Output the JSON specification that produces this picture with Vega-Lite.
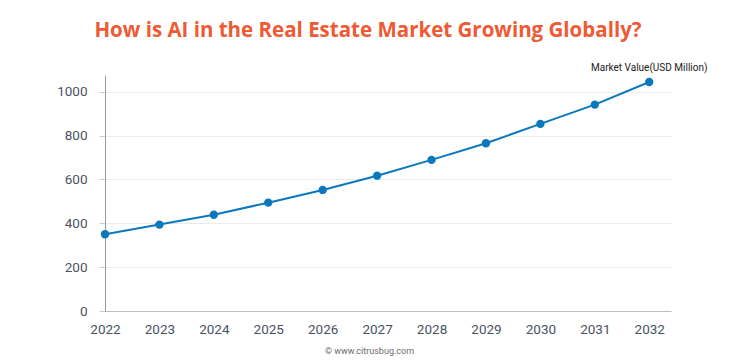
{
  "$schema": "https://vega.github.io/schema/vega-lite/v6.json",
  "width": 566,
  "height": 236,
  "autosize": {"type": "none"},
  "padding": {"left": 105, "top": 75, "right": 65, "bottom": 53},
  "background": "white",
  "title": {
    "text": "How is AI in the Real Estate Market Growing Globally?",
    "font": "Open Sans",
    "fontSize": 20.5,
    "fontWeight": "bold",
    "color": "#EE5A35",
    "anchor": "middle",
    "dx": -20,
    "offset": 22
  },
  "config": {
    "view": {"stroke": null},
    "axis": {"labelFont": "Roboto", "labelColor": "#4a5263", "labelFontSize": 13.5, "titleFont": "Roboto"}
  },
  "data": {
    "values": [
      {"year": 2022, "value": 350, "series": "Market Value(USD Million)"},
      {"year": 2023, "value": 394, "series": "Market Value(USD Million)"},
      {"year": 2024, "value": 439, "series": "Market Value(USD Million)"},
      {"year": 2025, "value": 494, "series": "Market Value(USD Million)"},
      {"year": 2026, "value": 552, "series": "Market Value(USD Million)"},
      {"year": 2027, "value": 617, "series": "Market Value(USD Million)"},
      {"year": 2028, "value": 689, "series": "Market Value(USD Million)"},
      {"year": 2029, "value": 765, "series": "Market Value(USD Million)"},
      {"year": 2030, "value": 853, "series": "Market Value(USD Million)"},
      {"year": 2031, "value": 941, "series": "Market Value(USD Million)"},
      {"year": 2032, "value": 1044, "series": "Market Value(USD Million)"}
    ]
  },
  "encoding": {
    "x": {
      "field": "year",
      "type": "quantitative",
      "scale": {"domain": [2022, 2032.4], "nice": false, "zero": false},
      "axis": {
        "values": [2022, 2023, 2024, 2025, 2026, 2027, 2028, 2029, 2030, 2031, 2032],
        "format": "d",
        "grid": false,
        "ticks": false,
        "domainColor": "#bdbdbd",
        "labelPadding": 11,
        "labelFlush": false,
        "title": "© www.citrusbug.com",
        "titleFontSize": 9,
        "titleFontWeight": "normal",
        "titleColor": "#6b6b6b",
        "titlePadding": 11,
        "titleX": 264
      }
    },
    "y": {
      "field": "value",
      "type": "quantitative",
      "scale": {"domain": [0, 1076], "nice": false},
      "axis": {
        "values": [0, 200, 400, 600, 800, 1000],
        "format": "d",
        "title": null,
        "gridColor": "#ebebeb",
        "tickColor": "#c8c8c8",
        "tickSize": 6,
        "domainColor": "#9a9a9a",
        "labelPadding": 12
      }
    }
  },
  "layer": [
    {"mark": {"type": "line", "color": "#0B78BE", "strokeWidth": 2}},
    {"mark": {"type": "point", "filled": true, "color": "#0B78BE", "size": 70, "opacity": 1}},
    {
      "transform": [{"filter": "datum.year == 2032"}],
      "mark": {"type": "text", "font": "Roboto", "fontSize": 10, "color": "#222222", "dy": -14, "align": "center"},
      "encoding": {"text": {"field": "series"}}
    }
  ]
}
